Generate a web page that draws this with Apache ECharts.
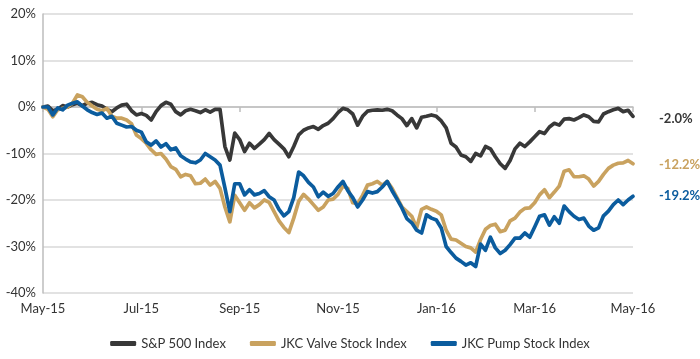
<!DOCTYPE html>
<html>
<head>
<meta charset="utf-8">
<script src="https://cdn.jsdelivr.net/npm/echarts@6/dist/echarts.min.js"></script>
<style>
html,body{margin:0;padding:0;background:#fff;}
#chart{width:700px;height:359px;}
</style>
</head>
<body>
<div id="chart"></div>
<script>
// Tick labels for the x axis (one every 2 months, 20 steps apart)
var tickLabels = ['May-15','Jul-15','Sep-15','Nov-15','Jan-16','Mar-16','May-16'];
var yTicks = [-40, -30, -20, -10, 0, 10, 20];
var seriesNames = ['S&P 500 Index', 'JKC Valve Stock Index', 'JKC Pump Stock Index'];

// Cumulative return (%) sampled at 121 evenly spaced points, May-15 .. May-16
var spValues = [
  0, 0.2, -0.8, -0.5, 0.3, 0, 0.5, 0.8, 0.3, 0.8,
  1.0, 0.5, 0.2, -0.5, -1.0, -0.2, 0.4, 0.6, -0.8, -1.7,
  -1.4, -1.8, -2.8, -1.0, 0.3, 1.0, 0.6, -1.0, -1.7, -0.8,
  -0.5, -0.8, -1.2, -0.6, -1.1, -0.5, -0.5, -8.5, -11.4, -5.6,
  -7.0, -9.6, -7.8, -8.9, -8.0, -7.0, -5.7, -7.0, -8.0, -9.0,
  -10.7, -8.5, -6.0, -5.0, -4.5, -4.2, -4.8, -4.0, -3.5, -2.5,
  -1.2, -0.3, -0.6, -1.5, -3.9, -2.0, -0.9, -0.7, -0.6, -0.7,
  -0.5, -0.8, -1.7, -2.5, -4.0, -2.5, -4.5, -2.2, -2.0, -1.7,
  -2.0, -3.0, -4.5, -7.8, -8.6, -10.3, -10.7, -11.7, -10.0, -10.5,
  -8.5, -9.0, -10.7, -12.2, -13.2, -11.5, -9.0, -7.8, -8.5, -7.5,
  -6.4, -5.3, -5.7, -4.3, -3.5, -3.9, -2.6, -2.5, -2.8, -2.3,
  -1.7, -2.1, -3.1, -3.2, -1.5, -1.0, -0.6, -0.3, -1.0, -0.7,
  -2.0
];
var valveValues = [
  0, -0.5, -2.1, -0.6, -0.3, 0, 0.8, 2.6, 2.2, 1.0,
  0.2, -0.5, -0.8, -0.3, -2.0, -2.4, -2.4, -2.8, -3.6, -6.0,
  -6.8, -7.8, -9.2, -10.2, -10.0, -11.2, -12.8, -13.4, -15.0, -14.5,
  -14.8, -16.5, -16.4, -15.5, -16.8, -16.0, -17.5, -21.5, -24.7, -19.0,
  -20.6, -22.2, -20.6, -21.7, -21.0, -20.0, -20.5, -22.5, -24.5, -25.9,
  -27.0, -23.9, -20.3, -18.8, -19.8, -21.0, -22.2, -21.5, -20.0, -19.8,
  -18.8, -17.0, -17.5, -20.6, -20.8, -19.0, -16.8, -16.5, -16.0, -16.8,
  -16.0, -17.5, -19.5, -21.5, -22.5, -23.5, -26.0, -22.0, -21.5, -22.0,
  -22.4, -23.2, -26.5, -28.4, -28.6, -29.3, -30.0, -30.3, -31.2, -28.5,
  -26.3, -25.5, -25.2, -26.8, -26.5, -24.5, -23.9, -22.6, -21.8, -21.7,
  -20.6, -18.9, -17.8, -19.5, -18.3, -17.0, -13.8, -13.5, -15.0, -15.0,
  -14.8, -15.5, -17.0, -16.0, -14.5, -13.2, -12.5, -12.1, -12.0, -11.5,
  -12.2
];
var pumpValues = [
  0, 0, -1.7, -0.2, -0.6, 0.4, 0.8, 1.1, 0.2, -0.6,
  -1.2, -1.6, -1.3, -2.4, -2.0, -3.5, -3.9, -4.3, -4.2, -5.0,
  -5.4, -7.5, -8.2, -7.3, -8.6, -7.9, -9.2, -8.8, -10.5, -11.2,
  -11.8, -12.0, -11.4, -10.0, -10.7, -11.4, -12.5, -17.4, -22.5, -16.5,
  -16.5, -18.9, -17.8, -18.9, -18.6, -18.0, -19.3, -20.0, -22.0, -23.4,
  -22.5, -19.5, -14.0, -14.8, -16.2, -17.2, -19.3, -18.3, -19.2, -18.6,
  -17.2, -16.0, -18.0, -19.5, -21.5, -20.0, -18.2, -18.5, -18.2, -17.2,
  -16.0, -18.0, -19.8, -21.7, -24.0, -24.9, -26.5, -27.1, -23.2, -23.9,
  -24.3, -26.0, -30.0, -31.3, -32.5, -33.2, -34.0, -33.5, -34.3, -29.5,
  -30.8, -28.0, -30.3, -31.5, -30.8, -29.6, -28.2, -28.2, -27.1, -28.0,
  -25.8, -23.5, -23.2, -25.4, -23.6, -25.0, -21.3, -22.5, -23.5, -24.2,
  -23.9, -25.6, -26.5, -26.0, -23.4, -22.4, -21.0, -20.0, -21.0, -20.0,
  -19.2
];

var colors = ['#383838', '#c9a25f', '#0b5c9e'];
var font = 'Lato, "Open Sans", sans-serif';

function toPairs(arr) {
  return arr.map(function (v, i) { return [i, v]; });
}

function makeSeries(name, values, color, offsetY) {
  return {
    name: name,
    type: 'line',
    data: toPairs(values),
    showSymbol: false,
    symbol: 'none',
    smooth: false,
    lineStyle: { color: color, width: 3.7, join: 'round', cap: 'round' },
    itemStyle: { color: color },
    emphasis: { disabled: true },
    endLabel: {
      show: true,
      formatter: function (p) { return p.value[1].toFixed(1) + '%'; },
      color: color,
      fontFamily: font,
      fontSize: 13,
      fontWeight: 'bold',
      distance: 26,
      offset: [0, offsetY]
    }
  };
}

var chart = echarts.init(document.getElementById('chart'), null, { renderer: 'canvas' });
chart.setOption({
  animation: false,
  backgroundColor: '#ffffff',
  color: colors,
  grid: { left: 43, right: 67, top: 14, bottom: 66, containLabel: false },
  legend: {
    bottom: 4,
    left: 'center',
    itemWidth: 26,
    itemHeight: 5,
    itemGap: 24,
    icon: 'roundRect',
    textStyle: { fontFamily: font, fontSize: 13, color: '#333' },
    data: seriesNames
  },
  xAxis: {
    type: 'value',
    min: 0,
    max: 120,
    interval: 20,
    axisLine: { show: true, lineStyle: { color: '#bdbdbd', width: 1.5 } },
    axisTick: { show: true, length: 5, lineStyle: { color: '#bdbdbd', width: 1.5 } },
    splitLine: { show: false },
    axisLabel: {
      fontFamily: font, fontSize: 13, color: '#333', margin: 9,
      formatter: function (v) { return tickLabels[Math.round(v / 20)]; }
    }
  },
  yAxis: {
    type: 'value',
    min: yTicks[0],
    max: yTicks[yTicks.length - 1],
    interval: 10,
    axisLine: { show: true, lineStyle: { color: '#bdbdbd', width: 1.5 } },
    axisTick: { show: false },
    splitLine: { show: true, lineStyle: { color: '#d9d9d9', width: 1.5 } },
    axisLabel: { fontFamily: font, fontSize: 13, color: '#333', margin: 7, formatter: '{value}%' }
  },
  series: [
    makeSeries(seriesNames[0], spValues, colors[0], 3),
    makeSeries(seriesNames[1], valveValues, colors[1], 1),
    makeSeries(seriesNames[2], pumpValues, colors[2], 0)
  ]
});
</script>
</body>
</html>
